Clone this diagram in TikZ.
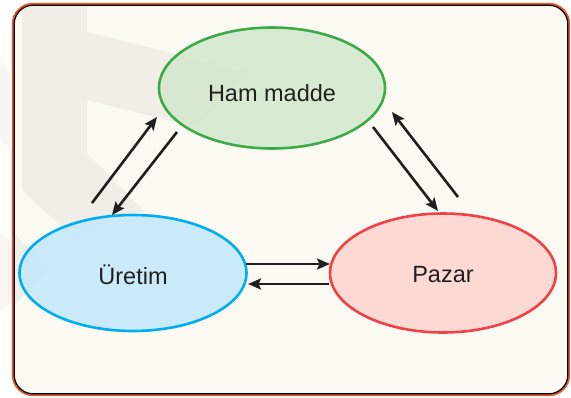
\documentclass[tikz,border=0pt]{standalone}
\usepackage{fontspec}
\setmainfont{Liberation Sans}
\usetikzlibrary{shapes.geometric,arrows.meta}
\definecolor{bgc}{HTML}{FAF9F2}
\definecolor{wmc}{HTML}{DEDCD2}
\definecolor{framec}{HTML}{E4562C}
\definecolor{gline}{HTML}{3DAA4A}
\definecolor{gfill}{HTML}{D4E8CD}
\definecolor{bline}{HTML}{00AEEF}
\definecolor{bfill}{HTML}{C6E9FA}
\definecolor{rline}{HTML}{EF4149}
\definecolor{rfill}{HTML}{FCDAD3}
\definecolor{txt}{HTML}{231F20}
\definecolor{arr}{HTML}{1F1F1F}
\tikzset{
  bubble/.style={ellipse, line width=2.6pt, inner sep=0pt,
    minimum width=226pt, font=\fontsize{23.5}{26}\selectfont, text=txt},
  flow/.style={arr, line width=2.6pt, -{Stealth[length=13pt,width=11pt,inset=2.5pt]}},
}
\begin{document}
\begin{tikzpicture}[x=1pt,y=-1pt]
\useasboundingbox (0,0) rectangle (571,397);
% watermark outside frame
\fill[wmc, opacity=0.25] (0,60) -- (10,72) -- (10,150) -- (0,140) -- cycle;
\fill[wmc, opacity=0.25] (0,233) -- (50,270) -- (0,312) -- cycle;
% frame
\fill[bgc, rounded corners=20pt] (13,4) rectangle (569,395);
% watermark inside frame
\fill[wmc, opacity=0.35] (22,5) -- (87,5) -- (87,32) -- (248,72) -- (196,127)
  -- (87,100) -- (87,153) -- (145,212) -- (110,216) -- (78,242) -- (22,190) -- cycle;
\fill[wmc, opacity=0.3] (14,233) -- (50,270) -- (14,305) -- cycle;
\draw[framec, line width=2.4pt, rounded corners=20pt] (13,4) rectangle (569,395);
\draw[black, line width=1.2pt, rounded corners=19pt] (14.2,5.2) rectangle (567.8,393.8);
% nodes
\node[bubble, draw=gline, fill=gfill, fill opacity=0.85, text opacity=1, minimum height=121pt] (ham) at (272,88) {\raisebox{-5pt}[\height][\depth]{Ham madde}};
\node[bubble, draw=bline, fill=bfill, fill opacity=0.9, text opacity=1, minimum width=227pt, minimum height=116pt] (uretim) at (133,273) {\raisebox{-1.5pt}[\height][\depth]{Üretim}};
\node[bubble, draw=rline, fill=rfill, minimum height=119pt] (pazar) at (443,273) {\raisebox{-1.5pt}[\height][\depth]{Pazar}};
% arrow ends
\coordinate (a1s) at (92,203);  \coordinate (a1e) at (157,117);
\coordinate (a2s) at (177,132); \coordinate (a2e) at (112,215);
\coordinate (a3s) at (373,127); \coordinate (a3e) at (438,211);
\coordinate (a4s) at (458,197); \coordinate (a4e) at (392,112);
\coordinate (a5s) at (246,264); \coordinate (a5e) at (330,264);
\coordinate (a6s) at (329,284); \coordinate (a6e) at (248,284);
\draw[flow] (a1s) -- (a1e);
\draw[flow] (a2s) -- (a2e);
\draw[flow] (a3s) -- (a3e);
\draw[flow] (a4s) -- (a4e);
\draw[flow] (a5s) -- (a5e);
\draw[flow] (a6s) -- (a6e);
\end{tikzpicture}
\end{document}
